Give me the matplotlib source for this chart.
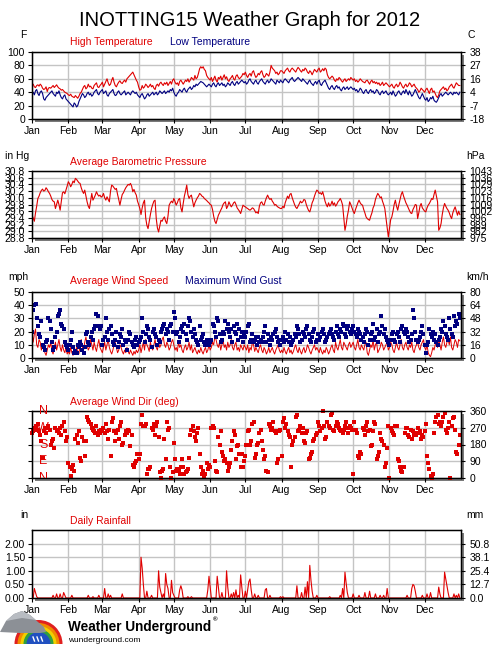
import numpy as np
import matplotlib
matplotlib.use("Agg")
import matplotlib.pyplot as plt
from matplotlib.patches import Rectangle, Wedge, Polygon

plt.rcParams['font.family'] = ['Liberation Sans', 'DejaVu Sans']

# ---- data (one list per month, daily values for 2012) ----
month_names = ['Jan', 'Feb', 'Mar', 'Apr', 'May', 'Jun', 'Jul', 'Aug', 'Sep', 'Oct', 'Nov', 'Dec']
month_start = [0, 31, 60, 91, 121, 152, 182, 213, 244, 274, 305, 335]

high_f = [
    [50, 52, 48, 47, 50, 51, 49, 52, 50, 46, 44, 45, 48, 41, 46, 47, 46, 48, 50, 47, 49, 51, 48, 46, 45, 43, 44, 42, 40, 39, 38],
    [36, 35, 37, 34, 33, 32, 35, 33, 31, 34, 38, 40, 44, 48, 50, 45, 47, 52, 48, 49, 46, 45, 50, 52, 54, 48, 47, 50, 52],
    [55, 48, 52, 56, 60, 54, 50, 52, 58, 62, 55, 50, 48, 52, 55, 57, 54, 53, 56, 58, 55, 60, 62, 64, 66, 68, 70, 66, 62, 58, 55],
    [48, 43, 44, 50, 46, 48, 52, 50, 47, 49, 52, 48, 50, 46, 44, 50, 52, 49, 53, 55, 52, 50, 54, 52, 55, 50, 53, 56, 52, 58],
    [60, 55, 52, 54, 50, 56, 58, 55, 52, 55, 58, 56, 60, 55, 58, 62, 60, 58, 65, 60, 62, 68, 75, 78, 76, 78, 74, 72, 65, 62, 60],
    [58, 62, 56, 60, 64, 58, 55, 62, 60, 64, 58, 62, 66, 60, 63, 58, 56, 60, 62, 65, 60, 58, 64, 66, 62, 60, 62, 64, 68, 66],
    [70, 65, 62, 66, 68, 64, 70, 72, 66, 62, 64, 68, 66, 70, 72, 66, 62, 64, 68, 66, 64, 70, 80, 76, 74, 72, 68, 70, 66, 68, 72],
    [72, 70, 68, 72, 74, 76, 72, 70, 74, 76, 74, 72, 70, 74, 77, 75, 72, 70, 74, 72, 76, 74, 70, 68, 72, 70, 66, 70, 74, 72, 70],
    [74, 76, 70, 72, 75, 72, 76, 74, 66, 62, 60, 62, 64, 62, 58, 56, 60, 58, 62, 60, 57, 55, 58, 60, 56, 58, 60, 58, 62, 60],
    [58, 60, 56, 58, 55, 57, 60, 58, 56, 55, 54, 57, 58, 55, 52, 56, 58, 54, 56, 53, 55, 52, 54, 50, 52, 55, 50, 52, 54, 52, 50],
    [48, 50, 52, 48, 46, 50, 52, 48, 50, 55, 52, 48, 46, 50, 52, 48, 50, 54, 52, 48, 50, 52, 48, 46, 44, 40, 42, 46, 44, 42],
    [40, 44, 46, 42, 38, 44, 46, 40, 42, 38, 34, 32, 36, 42, 44, 46, 48, 44, 46, 42, 44, 48, 50, 52, 48, 46, 50, 54, 52, 50, 50],
]
low_f = [
    [38, 40, 36, 42, 44, 38, 35, 40, 42, 38, 30, 28, 32, 34, 36, 38, 40, 42, 38, 36, 34, 40, 38, 42, 36, 32, 30, 34, 36, 30, 28],
    [26, 24, 22, 20, 18, 24, 22, 18, 20, 26, 30, 34, 38, 36, 32, 34, 38, 40, 36, 38, 34, 36, 40, 42, 44, 38, 36, 40, 42],
    [44, 38, 40, 42, 36, 34, 38, 40, 42, 44, 38, 35, 36, 40, 42, 38, 36, 38, 40, 42, 36, 38, 40, 38, 36, 40, 42, 40, 38, 40, 36],
    [34, 32, 36, 38, 34, 30, 32, 36, 38, 34, 36, 38, 40, 36, 38, 40, 36, 38, 42, 40, 38, 40, 42, 38, 40, 42, 40, 44, 42, 46],
    [40, 36, 34, 38, 40, 44, 42, 40, 44, 46, 42, 40, 44, 46, 48, 44, 46, 50, 48, 52, 50, 52, 54, 56, 55, 54, 52, 50, 48, 50, 52],
    [50, 48, 52, 54, 50, 48, 52, 54, 50, 52, 54, 50, 52, 48, 50, 54, 52, 50, 54, 56, 52, 50, 54, 56, 52, 54, 56, 58, 56, 54],
    [56, 52, 54, 58, 60, 56, 54, 52, 56, 58, 54, 52, 56, 58, 60, 56, 54, 52, 56, 58, 54, 56, 60, 58, 56, 54, 52, 58, 56, 54, 58],
    [56, 54, 58, 60, 58, 56, 54, 58, 60, 62, 58, 56, 58, 60, 62, 60, 58, 56, 60, 58, 56, 54, 52, 56, 58, 54, 52, 50, 54, 56, 52],
    [56, 58, 52, 50, 54, 56, 58, 54, 50, 46, 44, 48, 50, 46, 44, 48, 50, 46, 48, 44, 42, 46, 48, 44, 46, 48, 44, 46, 48, 46],
    [44, 46, 42, 44, 40, 42, 46, 44, 40, 38, 42, 44, 40, 38, 42, 44, 40, 42, 38, 40, 44, 42, 38, 36, 40, 42, 38, 40, 42, 38, 36],
    [38, 40, 36, 42, 38, 34, 36, 40, 42, 38, 36, 40, 42, 38, 44, 40, 36, 42, 38, 34, 36, 40, 44, 40, 36, 32, 30, 34, 38, 34],
    [30, 28, 32, 26, 28, 32, 30, 34, 28, 26, 25, 28, 32, 36, 38, 34, 36, 38, 40, 38, 36, 38, 40, 38, 36, 40, 38, 40, 38, 36, 40],
]
pressure_inhg = [
    [29.48, 29.40, 29.30, 29.55, 29.75, 29.98, 30.05, 30.15, 30.22, 30.26, 30.20, 30.22, 30.30, 30.25, 30.18, 30.13, 30.05, 29.95, 29.90, 29.88, 29.68, 29.80, 29.93, 29.80, 29.63, 29.90, 30.15, 30.18, 30.12, 30.23, 30.35],
    [30.48, 30.42, 30.33, 30.40, 30.50, 30.45, 30.58, 30.55, 30.50, 30.45, 30.43, 30.30, 30.20, 30.13, 30.23, 30.05, 29.88, 29.75, 29.68, 29.90, 30.13, 29.93, 30.00, 30.08, 30.18, 30.10, 30.05, 30.08, 30.02],
    [30.05, 30.13, 30.00, 29.93, 30.03, 29.95, 29.88, 30.20, 30.38, 30.35, 30.30, 30.25, 30.28, 30.10, 29.95, 29.78, 29.95, 30.10, 30.15, 30.23, 30.30, 30.35, 30.40, 30.38, 30.43, 30.35, 30.18, 30.25, 30.15, 30.08, 29.90],
    [29.80, 29.68, 29.50, 29.70, 29.85, 29.93, 29.40, 29.18, 29.08, 29.30, 29.50, 29.68, 29.80, 29.90, 29.93, 29.38, 29.10, 28.98, 29.15, 29.33, 29.30, 29.38, 29.43, 29.30, 29.23, 29.45, 29.78, 29.85, 29.90, 29.85],
    [29.98, 29.90, 29.78, 29.85, 29.95, 29.98, 29.70, 29.58, 29.83, 30.05, 30.20, 30.38, 30.10, 29.98, 30.05, 30.08, 29.90, 29.73, 29.85, 29.93, 30.00, 30.05, 30.13, 30.10, 30.05, 30.03, 29.98, 29.95, 29.92, 29.88, 29.85],
    [29.80, 29.78, 29.65, 29.45, 29.30, 29.23, 29.35, 29.48, 29.55, 29.63, 29.70, 29.80, 29.85, 29.88, 29.68, 29.75, 29.88, 29.80, 29.73, 29.78, 29.85, 29.88, 29.80, 29.70, 29.65, 29.60, 29.53, 29.65, 29.78, 29.75],
    [29.73, 29.70, 29.68, 29.65, 29.63, 29.66, 29.70, 29.68, 29.62, 29.55, 29.58, 29.53, 29.75, 29.85, 29.88, 29.80, 29.78, 29.90, 30.00, 30.08, 30.00, 29.95, 29.98, 29.90, 29.85, 29.78, 29.80, 29.75, 29.72, 29.70, 29.68],
    [29.68, 29.75, 29.70, 29.85, 29.95, 30.05, 29.98, 30.10, 30.13, 30.00, 29.90, 29.80, 29.72, 29.68, 29.75, 29.82, 29.90, 29.85, 29.88, 29.95, 29.93, 29.80, 29.70, 29.62, 29.58, 29.70, 29.85, 29.93, 30.05, 30.15, 30.23],
    [30.20, 30.13, 30.15, 30.10, 30.18, 30.05, 29.90, 29.80, 29.73, 29.85, 29.75, 29.80, 29.90, 29.78, 29.85, 29.75, 29.80, 29.88, 29.92, 29.98, 29.90, 29.78, 29.40, 29.03, 29.20, 29.45, 29.63, 29.88, 29.80, 29.70],
    [29.60, 29.53, 29.65, 29.75, 29.85, 29.93, 29.85, 29.80, 29.78, 29.65, 29.55, 29.43, 29.38, 29.35, 29.33, 29.45, 29.55, 29.70, 29.78, 29.95, 30.05, 30.13, 30.08, 30.00, 30.03, 29.90, 29.80, 29.68, 29.40, 29.10, 28.83],
    [29.10, 29.35, 29.43, 29.60, 29.80, 29.93, 29.75, 29.63, 29.80, 29.95, 30.10, 30.18, 30.05, 29.95, 29.85, 29.78, 29.70, 29.62, 29.55, 29.53, 29.65, 29.72, 29.80, 29.78, 29.38, 29.55, 29.75, 29.83, 29.70, 29.65],
    [29.60, 29.58, 29.70, 29.78, 29.83, 29.90, 29.98, 29.95, 30.10, 30.23, 30.05, 29.88, 29.03, 29.10, 29.23, 29.50, 29.70, 29.83, 29.75, 29.68, 29.63, 29.55, 29.45, 29.38, 29.55, 29.65, 29.73, 29.60, 29.48, 29.60, 29.50],
]
wind_avg_mph = [
    [20, 12, 18, 22, 10, 8, 14, 12, 6, 10, 8, 4, 2, 6, 10, 8, 12, 5, 3, 8, 12, 6, 10, 14, 8, 5, 10, 6, 4, 8, 3],
    [5, 3, 8, 4, 2, 6, 4, 8, 5, 3, 10, 14, 8, 6, 12, 16, 10, 6, 8, 14, 10, 6, 12, 8, 5, 10, 14, 8, 6],
    [4, 8, 12, 6, 10, 14, 8, 5, 3, 6, 10, 12, 8, 4, 6, 10, 8, 5, 3, 6, 4, 8, 5, 3, 6, 4, 2, 5, 3, 6, 4],
    [6, 10, 4, 8, 12, 6, 14, 10, 8, 5, 12, 8, 6, 10, 14, 8, 6, 12, 8, 10, 14, 16, 10, 8, 12, 10, 6, 8, 12, 14],
    [10, 6, 8, 5, 12, 8, 10, 6, 4, 8, 10, 6, 8, 12, 6, 10, 4, 6, 8, 5, 3, 6, 4, 8, 5, 3, 6, 8, 4, 6, 10],
    [6, 8, 12, 10, 16, 14, 10, 8, 12, 6, 10, 14, 8, 10, 6, 12, 8, 10, 14, 8, 6, 10, 12, 6, 8, 5, 10, 8, 6, 10],
    [8, 6, 10, 4, 8, 6, 12, 10, 5, 8, 6, 4, 8, 10, 6, 4, 8, 6, 3, 5, 8, 4, 6, 8, 5, 3, 6, 8, 10, 6, 4],
    [6, 4, 8, 5, 3, 6, 8, 4, 6, 3, 5, 8, 10, 6, 4, 8, 5, 3, 6, 8, 4, 6, 10, 8, 5, 3, 6, 8, 10, 6, 8],
    [6, 4, 8, 5, 3, 6, 4, 8, 6, 3, 5, 8, 10, 6, 4, 12, 8, 6, 10, 14, 8, 6, 12, 10, 8, 6, 10, 12, 8, 10],
    [12, 8, 6, 10, 14, 8, 6, 10, 8, 6, 10, 12, 4, 2, 6, 10, 8, 14, 6, 10, 12, 4, 6, 8, 12, 10, 6, 8, 10, 12, 6],
    [8, 12, 10, 6, 4, 8, 12, 8, 6, 10, 14, 8, 6, 10, 12, 8, 6, 10, 8, 12, 6, 4, 8, 10, 12, 8, 6, 10, 12, 14],
    [8, 6, 10, 4, 2, 1, 4, 8, 6, 10, 12, 8, 14, 10, 6, 12, 16, 10, 8, 12, 14, 10, 16, 8, 6, 10, 14, 12, 8, 14, 13],
]
wind_gust_mph = [
    [20, 36, 40, 41, 30, 24, 18, 16, 28, 10, 8, 6, 12, 14, 30, 28, 22, 12, 6, 8, 16, 20, 32, 33, 36, 26, 24, 22, 12, 10, 8],
    [6, 10, 14, 20, 8, 4, 5, 4, 10, 8, 12, 10, 6, 4, 8, 18, 20, 12, 10, 16, 20, 14, 22, 24, 33, 32, 24, 22, 24],
    [10, 14, 16, 30, 20, 14, 22, 24, 18, 12, 10, 14, 20, 8, 12, 18, 16, 22, 10, 14, 12, 6, 14, 20, 18, 12, 10, 8, 14, 16, 10],
    [12, 14, 16, 30, 20, 12, 18, 24, 22, 16, 14, 8, 20, 22, 18, 16, 10, 14, 12, 20, 22, 24, 26, 18, 22, 20, 14, 24, 26, 20],
    [35, 30, 18, 20, 12, 16, 22, 24, 20, 26, 18, 14, 24, 30, 28, 20, 16, 22, 18, 14, 12, 10, 24, 14, 16, 18, 12, 10, 14, 12, 10],
    [12, 14, 26, 24, 20, 16, 30, 28, 18, 12, 14, 20, 18, 28, 22, 26, 20, 16, 22, 12, 24, 20, 18, 26, 14, 22, 16, 20, 12, 18],
    [16, 20, 24, 26, 12, 14, 18, 12, 14, 16, 10, 16, 12, 14, 12, 16, 20, 24, 12, 18, 14, 10, 16, 14, 18, 20, 22, 16, 12, 14, 10],
    [14, 16, 12, 20, 14, 18, 12, 16, 10, 12, 14, 18, 16, 24, 22, 18, 12, 14, 20, 18, 16, 22, 24, 18, 14, 12, 16, 20, 22, 12, 14],
    [18, 14, 16, 20, 22, 18, 12, 14, 16, 18, 20, 22, 18, 16, 14, 20, 24, 18, 16, 22, 20, 26, 24, 18, 16, 22, 24, 20, 18, 22],
    [24, 20, 18, 16, 22, 20, 18, 14, 16, 12, 18, 22, 20, 10, 14, 18, 20, 26, 14, 16, 22, 12, 18, 20, 32, 24, 18, 22, 16, 14, 12],
    [10, 14, 18, 20, 14, 12, 18, 20, 16, 12, 22, 24, 20, 18, 22, 20, 16, 12, 14, 18, 36, 30, 20, 14, 12, 14, 16, 20, 24, 18],
    [10, 4, 10, 12, 22, 18, 16, 20, 14, 18, 12, 10, 14, 16, 22, 20, 28, 24, 18, 16, 14, 30, 22, 18, 16, 32, 24, 28, 26, 33, 30],
]
wind_dir_deg = [
    [240, 250, 270, 280, 260, 290, 250, 230, 200, 110, 250, 270, 240, 270, 280, 260, 180, 200, 210, 160, 270, 250, 260, 240, 270, 230, 280, 300, 250, 200, 220],
    [80, 60, 10, 50, 70, 40, 210, 230, 190, 250, 110, 90, 220, 200, 120, 200, 330, 310, 300, 290, 270, 260, 250, 240, 280, 230, 250, 240, 260],
    [250, 270, 240, 290, 250, 210, 260, 120, 300, 320, 250, 200, 240, 260, 210, 280, 300, 180, 190, 230, 250, 240, 260, 250, 170, 230, 70, 60, 80, 90, 130],
    [100, 130, 290, 340, 280, 280, 290, 20, 50, 50, 60, 270, 260, 290, 230, 280, 300, 220, 30, 0, 40, 50, 210, 100, 300, 260, 270, 60, 0, 30],
    [190, 100, 40, 50, 40, 20, 60, 100, 60, 20, 30, 40, 50, 110, 230, 260, 280, 250, 220, 200, 240, 270, 130, 60, 20, 40, 10, 20, 80, 50, 70],
    [60, 270, 280, 270, 90, 40, 30, 220, 180, 250, 140, 120, 90, 100, 80, 40, 60, 80, 150, 200, 250, 230, 100, 170, 180, 130, 60, 130, 60, 90],
    [120, 180, 250, 260, 180, 200, 290, 300, 110, 130, 180, 190, 240, 260, 200, 150, 100, 120, 40, 30, 290, 280, 260, 270, 300, 250, 240, 80, 100, 250, 260],
    [120, 300, 320, 270, 290, 250, 230, 220, 60, 180, 200, 220, 330, 340, 250, 260, 280, 240, 270, 200, 190, 240, 250, 100, 110, 130, 140, 200, 210, 230, 240],
    [300, 280, 250, 270, 360, 280, 210, 220, 300, 280, 270, 340, 350, 260, 250, 280, 300, 290, 270, 260, 250, 240, 260, 280, 300, 270, 240, 280, 270, 260],
    [20, 300, 260, 240, 120, 110, 140, 130, 270, 260, 230, 280, 300, 250, 260, 170, 180, 250, 300, 290, 100, 120, 140, 240, 210, 200, 180, 60, 80, 160, 280],
    [0, 270, 250, 240, 230, 280, 280, 100, 90, 60, 40, 30, 60, 240, 270, 270, 230, 220, 260, 210, 250, 230, 240, 230, 270, 240, 250, 210, 230, 220],
    [250, 290, 120, 80, 50, 10, 0, 20, 240, 300, 330, 340, 290, 300, 280, 300, 330, 350, 260, 240, 270, 300, 0, 280, 320, 330, 260, 140, 130, 180, 230],
]
# days with rain (day of year, 0 = Jan 1) and amount in inches; all other days are 0
rain_day = [2, 3, 4, 18, 21, 24, 27, 28, 34, 48, 52, 57, 62, 65, 67, 77,
            93, 94, 95, 98, 102, 108, 109, 110, 112, 114, 115, 116, 119, 120, 121, 126, 127, 128, 133, 136,
            150, 151, 152, 158, 159, 162, 166, 167, 170, 172, 174, 176, 178, 179, 182, 184, 185, 186, 187,
            190, 193, 199, 200, 203, 212, 214, 226, 230, 233, 235, 237, 238, 239, 243,
            254, 263, 265, 267, 268, 269, 274, 279, 284, 288, 293, 297, 300, 303,
            320, 324, 325, 326, 327, 333, 337, 340, 347, 348, 352, 353, 354, 355, 360, 362, 364]
rain_in = [0.35, 0.20, 0.05, 0.10, 0.15, 0.15, 0.20, 0.10, 0.10, 0.10, 0.05, 0.10, 0.35, 0.15, 0.10, 0.15,
           1.50, 1.10, 0.50, 0.25, 0.10, 1.00, 0.40, 0.20, 0.15, 0.90, 0.50, 0.35, 0.65, 0.20, 0.10, 0.30, 0.45, 0.30, 0.05, 0.05,
           0.30, 0.80, 0.40, 0.80, 0.40, 0.20, 1.00, 0.40, 0.15, 0.20, 0.30, 0.10, 0.85, 0.40, 0.25, 0.30, 0.60, 0.70, 0.30,
           0.15, 0.10, 0.30, 0.35, 0.10, 0.05, 0.05, 0.45, 0.20, 0.40, 0.60, 1.20, 0.65, 0.25, 0.10,
           0.05, 0.10, 0.35, 0.95, 0.55, 0.20, 0.15, 0.10, 0.20, 0.25, 0.15, 0.10, 0.10, 0.35,
           0.10, 0.35, 0.50, 0.45, 0.25, 0.10, 0.15, 0.20, 0.40, 0.15, 0.95, 0.70, 0.45, 0.20, 0.15, 0.10, 0.15]


def daily(monthly):
    x, y = [], []
    for m, vals in enumerate(monthly):
        for i, v in enumerate(vals):
            x.append(month_start[m] + i)
            y.append(v)
    return np.array(x), np.array(y, dtype=float)


RED = '#e00000'
NAVY = '#000080'
W, H = 500, 645
fig = plt.figure(figsize=(W / 100, H / 100), dpi=100)


def panel(top, bottom, ylim, yticks, ylabels, rlabels):
    h = (bottom - top) / H
    ax = fig.add_axes([32 / W, 1 - bottom / H, 429 / W, h])
    fig.patches.append(Rectangle((35 / W, 1 - (bottom + 3) / H), 429 / W, h,
                                 transform=fig.transFigure, facecolor='#7a7a7a',
                                 edgecolor='none', zorder=-5))
    ax.set_xlim(0, 366)
    ax.set_ylim(*ylim)
    ax.set_xticks(month_start)
    ax.set_xticklabels(month_names)
    ax.set_yticks(yticks)
    ax.set_yticklabels(ylabels)
    ax.grid(True, color='#c4c4c4', lw=1)
    ax.set_axisbelow(True)
    ax.tick_params(direction='out', length=3, width=0.8, labelsize=7.5, pad=2)
    for s in ax.spines.values():
        s.set_linewidth(1)
    ax2 = ax.twinx()
    ax2.set_ylim(*ylim)
    ax2.set_yticks(yticks)
    ax2.set_yticklabels(rlabels)
    ax2.tick_params(direction='out', length=3, width=0.8, labelsize=7.5, pad=3)
    return ax, ax2


def label(x, y, s, color='black', size=7.5, ha='left'):
    fig.text(x / W, 1 - y / H, s, color=color, fontsize=size, ha=ha, va='center')


fig.text(0.5, 1 - 20 / H, 'INOTTING15 Weather Graph for 2012', ha='center', va='center', fontsize=14.5)

# temperature
t_ticks = [0, 20, 40, 60, 80, 100]
ax, _ = panel(52, 119, (0, 100), t_ticks, [str(t) for t in t_ticks],
              [str(round((t - 32) * 5 / 9)) for t in t_ticks])
x, y = daily(high_f)
ax.plot(x, y, color=RED, lw=0.8)
x, y = daily(low_f)
ax.plot(x, y, color=NAVY, lw=0.8)
label(23, 35, 'F', ha='center')
label(467, 35, 'C')
label(70, 42, 'High Temperature', RED)
label(170, 42, 'Low Temperature', NAVY)

# pressure
p_ticks = [28.8 + 0.2 * i for i in range(11)]
ax, _ = panel(171, 238, (28.8, 30.8), p_ticks, ['%.1f' % p for p in p_ticks],
              [str(round(p * 33.8639)) for p in p_ticks])
x, y = daily(pressure_inhg)
ax.plot(x, y, color=RED, lw=0.8)
label(5, 156, 'in Hg')
label(466, 156, 'hPa')
label(70, 162, 'Average Barometric Pressure', RED)

# wind speed
w_ticks = [0, 10, 20, 30, 40, 50]
ax, _ = panel(292, 358, (0, 50), w_ticks, [str(w) for w in w_ticks],
              [str(round(w * 1.609344)) for w in w_ticks])
x, y = daily(wind_avg_mph)
ax.plot(x, y, color=RED, lw=0.7)
x, y = daily(wind_gust_mph)
ax.plot(x, y, ls='none', marker='s', ms=2.2, mew=0, color=NAVY)
label(8, 277, 'mph')
label(466, 277, 'km/h')
label(70, 281, 'Average Wind Speed', RED)
label(185, 281, 'Maximum Wind Gust', NAVY)

# wind direction
d_ticks = [0, 90, 180, 270, 360]
ax, ax2 = panel(411, 478, (0, 360), d_ticks, ['', '', '', '', ''], [str(d) for d in d_ticks])
x, y = daily(wind_dir_deg)
ax.plot(x, y, ls='none', marker='s', ms=2.2, mew=0, color=RED, clip_on=False)
for d, c in zip(d_ticks, ['N', 'E', 'S', 'W', 'N']):
    ax2.text(9.5, d, c, color=RED, fontsize=9, ha='center', va='center',
             clip_on=(d == 0), zorder=10)
label(70, 402, 'Average Wind Dir (deg)', RED)

# rainfall
r_ticks = [0, 0.5, 1.0, 1.5, 2.0]
ax, _ = panel(530, 598, (0, 2.5), r_ticks, ['%.2f' % r for r in r_ticks],
              ['%.1f' % (r * 25.4) for r in r_ticks])
rain = np.zeros(366)
rain[rain_day] = rain_in
ax.plot(np.arange(366), rain, color=RED, lw=0.8)
label(20, 515, 'in')
label(466, 515, 'mm')
label(70, 521, 'Daily Rainfall', RED)

# logo
la = fig.add_axes([0, 0, 66 / W, 35 / H])
la.set_xlim(0, 66)
la.set_ylim(0, 35)
la.axis('off')
for r, c in zip([24, 21, 18, 15], ['#e02020', '#f08a00', '#f0d000', '#30a040']):
    la.add_patch(Wedge((38.5, 1), r, 0, 180, facecolor=c, edgecolor='none'))
la.add_patch(Wedge((38.5, 1), 12, 0, 180, facecolor='#2050c0', edgecolor='none'))
for xr in [33, 37, 41]:
    la.plot([xr, xr + 1.5], [8, 4], color='white', lw=1)
la.add_patch(Polygon([[0, 13], [6, 24], [14, 31], [22, 34], [30, 30], [38, 23], [44, 18], [46, 13], [40, 12], [20, 12]],
                     facecolor='#8c9096', edgecolor='none'))
la.add_patch(Polygon([[6, 24], [14, 31], [22, 34], [30, 30], [36, 25], [22, 27]],
                     facecolor='#b8bcc2', edgecolor='none'))
fig.text(68 / W, 1 - 627 / H, 'Weather Underground', fontsize=9.8, fontweight='bold', va='center')
fig.text(213 / W, 1 - 620 / H, '®', fontsize=4.5, fontweight='bold', va='center')
fig.text(68 / W, 1 - 640 / H, 'wunderground.com', fontsize=6, va='center')

fig.savefig('out.png', dpi=100)
